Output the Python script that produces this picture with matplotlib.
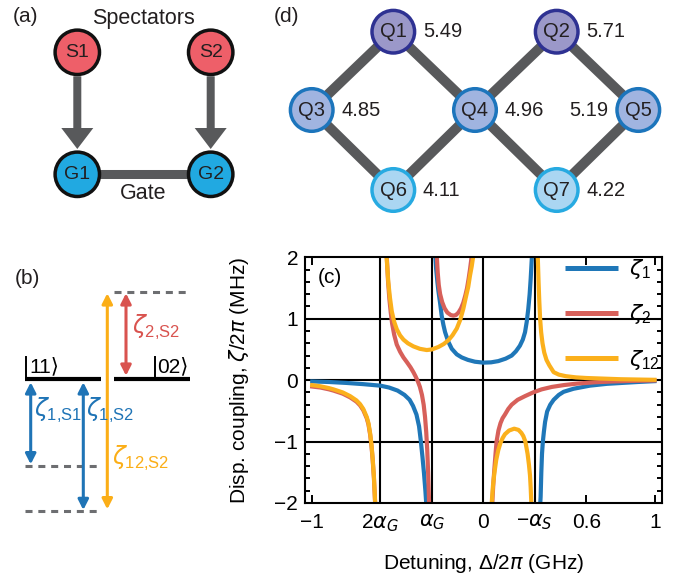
import matplotlib
matplotlib.use('Agg')
import matplotlib.pyplot as plt
from matplotlib.patches import Circle, FancyArrow
from matplotlib.ticker import FixedLocator, FixedFormatter, MultipleLocator

plt.rcParams['font.family'] = ['Liberation Sans', 'DejaVu Sans']
plt.rcParams['mathtext.fontset'] = 'custom'
plt.rcParams['mathtext.rm'] = 'Liberation Sans'
plt.rcParams['mathtext.it'] = 'DejaVu Sans:italic'
plt.rcParams['mathtext.bf'] = 'Liberation Sans:bold'

# ---------------- data: panel (c) ----------------
zeta1_dx = [
    [-1.01, -0.9, -0.8, -0.7, -0.6, -0.55, -0.5, -0.46, -0.43, -0.41, -0.39, -0.375, -0.365, -0.355, -0.346, -0.338, -0.332],
    [-0.281, -0.275, -0.268, -0.262, -0.252, -0.243, -0.233, -0.223, -0.205, -0.184, -0.155, -0.126, -0.09, -0.049, 0.0,
     0.045, 0.087, 0.13, 0.165, 0.19, 0.213, 0.23, 0.243, 0.253, 0.262, 0.27, 0.276, 0.281, 0.285],
    [0.33, 0.334, 0.338, 0.342, 0.347, 0.353, 0.36, 0.372, 0.39, 0.41, 0.44, 0.468, 0.526, 0.62, 0.72, 0.81, 0.9, 1.0, 1.01],
]
zeta1_val = [
    [-0.02, -0.03, -0.045, -0.065, -0.09, -0.12, -0.17, -0.24, -0.32, -0.42, -0.56, -0.75, -0.98, -1.25, -1.52, -1.8, -2.05],
    [2.05, 1.8, 1.6, 1.45, 1.25, 1.05, 0.9, 0.78, 0.63, 0.51, 0.42, 0.37, 0.33, 0.30, 0.285,
     0.29, 0.31, 0.35, 0.40, 0.47, 0.56, 0.66, 0.78, 0.95, 1.16, 1.4, 1.65, 1.9, 2.1],
    [-2.1, -1.9, -1.5, -1.2, -1.0, -0.84, -0.68, -0.51, -0.4, -0.32, -0.24, -0.19, -0.14, -0.09, -0.06, -0.045, -0.03, -0.016, -0.015],
]
zeta2_dx = [
    [-1.01, -0.95, -0.9, -0.874, -0.82, -0.777, -0.74, -0.719, -0.70, -0.68, -0.67, -0.66, -0.652, -0.645, -0.638, -0.632, -0.628],
    [-0.566, -0.562, -0.556, -0.548, -0.54, -0.532, -0.52, -0.505, -0.485, -0.466, -0.445, -0.425, -0.408, -0.395, -0.382,
     -0.37, -0.358, -0.348, -0.34, -0.333, -0.327, -0.322, -0.318, -0.315],
    [-0.273, -0.266, -0.26, -0.252, -0.24, -0.226, -0.21, -0.19, -0.175, -0.16, -0.145, -0.13, -0.117, -0.105, -0.095,
     -0.086, -0.078, -0.071, -0.066],
    [0.05, 0.054, 0.059, 0.065, 0.071, 0.077, 0.088, 0.1, 0.112, 0.126, 0.145, 0.165, 0.2, 0.243, 0.29, 0.34, 0.4,
     0.47, 0.55, 0.65, 0.75, 0.85, 0.95, 1.01],
]
zeta2_val = [
    [-0.10, -0.12, -0.15, -0.17, -0.22, -0.28, -0.35, -0.41, -0.49, -0.62, -0.72, -0.89, -1.08, -1.31, -1.6, -1.95, -2.15],
    [2.15, 1.95, 1.62, 1.32, 1.1, 0.92, 0.74, 0.58, 0.46, 0.37, 0.29, 0.21, 0.13, 0.06, -0.02,
     -0.11, -0.24, -0.4, -0.6, -0.85, -1.15, -1.5, -1.85, -2.15],
    [2.1, 1.75, 1.55, 1.4, 1.27, 1.17, 1.1, 1.06, 1.05, 1.06, 1.1, 1.17, 1.26, 1.38, 1.5, 1.65, 1.8, 1.95, 2.1],
    [-2.15, -1.9, -1.65, -1.42, -1.2, -1.0, -0.82, -0.7, -0.62, -0.56, -0.47, -0.4, -0.32, -0.26, -0.2, -0.15, -0.11,
     -0.08, -0.055, -0.035, -0.022, -0.013, -0.008, -0.005],
]
zeta12_dx = [
    [-1.01, -0.95, -0.9, -0.874, -0.82, -0.777, -0.74, -0.719, -0.70, -0.68, -0.67, -0.66, -0.652, -0.645, -0.638, -0.632, -0.628],
    [-0.568, -0.563, -0.558, -0.554, -0.545, -0.534, -0.52, -0.505, -0.486, -0.466, -0.44, -0.408, -0.37, -0.33, -0.3,
     -0.262, -0.23, -0.204, -0.18, -0.155, -0.135, -0.117, -0.102, -0.088, -0.078, -0.068, -0.06, -0.055],
    [0.046, 0.05, 0.056, 0.064, 0.075, 0.087, 0.1, 0.113, 0.126, 0.15, 0.18, 0.205, 0.222, 0.233, 0.245, 0.258, 0.266,
     0.272, 0.276, 0.279, 0.281],
    [0.314, 0.318, 0.322, 0.326, 0.331, 0.337, 0.345, 0.355, 0.368, 0.385, 0.41, 0.44, 0.48, 0.54, 0.6, 0.7, 0.8, 0.9, 1.01],
]
zeta12_val = [
    [-0.077, -0.1, -0.13, -0.15, -0.2, -0.26, -0.33, -0.39, -0.47, -0.6, -0.7, -0.87, -1.06, -1.29, -1.58, -1.93, -2.15],
    [2.15, 1.95, 1.75, 1.59, 1.35, 1.12, 0.95, 0.83, 0.73, 0.66, 0.6, 0.55, 0.51, 0.49, 0.5,
     0.54, 0.59, 0.65, 0.73, 0.84, 0.98, 1.16, 1.35, 1.52, 1.7, 1.85, 2.0, 2.15],
    [-2.15, -1.95, -1.72, -1.52, -1.3, -1.14, -1.02, -0.94, -0.88, -0.82, -0.79, -0.81, -0.86, -0.91, -1.0, -1.2, -1.38,
     -1.55, -1.75, -1.95, -2.15],
    [2.15, 1.95, 1.6, 1.3, 1.0, 0.78, 0.6, 0.45, 0.33, 0.24, 0.13, 0.09, 0.065, 0.045, 0.035, 0.025, 0.015, 0.01, 0.005],
]
series_labels = [r'$\zeta_1$', r'$\zeta_2$', r'$\zeta_{12}$']
series_colors = ['#1F77B8', '#D7605A', '#FBB01C']

x_ticks = [-1, -0.6, -0.3, 0, 0.3, 0.6, 1]
x_ticklabels = ['\u22121', r'$2\alpha_G$', r'$\alpha_G$', '0', r'$-\alpha_S$', '0.6', '1']
y_ticks = [-2, -1, 0, 1, 2]
y_ticklabels = ['\u22122', '\u22121', '0', '1', '2']
grid_x = [-0.6, -0.3, 0, 0.3]
grid_y = [-1, 0, 1]

# ---------------- data: panel (a) ----------------
a_names = ['S1', 'S2', 'G1', 'G2']
a_x = [77.3, 210.7, 77.3, 210.7]
a_y = [52.3, 52.3, 174.3, 174.3]
a_fill = ['#EE5F69', '#EE5F69', '#21A9E1', '#21A9E1']

# ---------------- data: panel (d) ----------------
q_names = ['Q1', 'Q2', 'Q3', 'Q4', 'Q5', 'Q6', 'Q7']
q_freq = ['5.49', '5.71', '4.85', '4.96', '5.19', '4.11', '4.22']
q_x = [393.3, 556.7, 311.7, 475.0, 638.3, 393.3, 556.7]
q_y = [31.7, 31.7, 110.0, 110.0, 110.0, 190.0, 190.0]
q_fill = ['#9B98C9', '#9B98C9', '#A0B4E0', '#A0B4E0', '#A0B4E0', '#AAD6F2', '#AAD6F2']
q_edge = ['#2E3192', '#2E3192', '#1C75BC', '#1C75BC', '#1C75BC', '#27AAE1', '#27AAE1']
q_links = [(0, 2), (0, 3), (1, 3), (1, 4), (2, 5), (3, 5), (3, 6), (4, 6)]
q_label_side = ['right', 'right', 'right', 'right', 'left', 'right', 'right']

GRAY = '#58595B'

fig = plt.figure(figsize=(6.88, 5.81), dpi=100)

# overlay axes in pixel coordinates for diagrams
ov = fig.add_axes([0, 0, 1, 1])
ov.set_xlim(0, 688)
ov.set_ylim(581, 0)
ov.axis('off')

# ---- panel (a)
ov.text(13, 16, '(a)', fontsize=15, ha='left', va='center', color='#231F20')
ov.text(143.3, 18.5, 'Spectators', fontsize=15.5, ha='center', va='center', color='#231F20')
ov.text(143.3, 193.5, 'Gate', fontsize=15.5, ha='center', va='center', color='#231F20')
ov.plot([a_x[2], a_x[3]], [a_y[2], a_y[3]], color=GRAY, lw=6.5, solid_capstyle='butt', zorder=1)
for i in (0, 1):
    ov.add_patch(FancyArrow(a_x[i], a_y[i] + 24, 0, 149 - (a_y[i] + 24), width=8, head_width=32,
                            head_length=21, length_includes_head=True, color=GRAY, lw=0, zorder=1))
for n, x, y, c in zip(a_names, a_x, a_y, a_fill):
    ov.add_patch(Circle((x, y), 22.2, facecolor=c, edgecolor='#111111', lw=2.5, zorder=3))
    ov.text(x, y, n, fontsize=14, ha='center', va='center', color='#231F20', zorder=4)

# ---- panel (b)
ov.text(15, 278, '(b)', fontsize=15, ha='left', va='center', color='#231F20')
ov.plot([25, 100.7], [379, 379], color='k', lw=3, solid_capstyle='butt')
ov.plot([114.3, 190], [379, 379], color='k', lw=3, solid_capstyle='butt')
ov.plot([25.7, 25.7], [356.5, 379], color='k', lw=1.4)
ov.plot([155, 155], [356.5, 379], color='k', lw=1.4)
ov.text(29, 367, '11\u27E9', fontsize=15, ha='left', va='center', color='k', family=['Liberation Sans', 'DejaVu Sans'])
ov.text(157.5, 367, '02\u27E9', fontsize=15, ha='left', va='center', color='k', family=['Liberation Sans', 'DejaVu Sans'])
for xs, y in (([114.3, 190], 292.3), ([25, 100.7], 465.7), ([25, 100.7], 511)):
    ov.plot(xs, [y, y], color='#6D6E71', lw=2.2, ls=(0, (2.3, 1.9)))
b_arrows = [(30.7, 382.3, 464.3, '#1F74B6'), (83.3, 382.3, 510, '#1F74B6'),
            (107.3, 293.3, 509.3, '#FBAE17'), (126, 293.3, 375.7, '#D9534F')]
for x, y1, y2, c in b_arrows:
    ov.annotate('', xy=(x, y2), xytext=(x, y1),
                arrowprops=dict(arrowstyle='<|-|>,head_length=0.55,head_width=0.28', color=c, lw=2.2,
                                shrinkA=0, shrinkB=0, mutation_scale=11))
ov.text(34, 410, r'$\zeta_{\mathrm{1{,}S1}}$', fontsize=17, ha='left', va='center', color='#1F74B6')
ov.text(86, 410, r'$\zeta_{\mathrm{1{,}S2}}$', fontsize=17, ha='left', va='center', color='#1F74B6')
ov.text(112, 458, r'$\zeta_{\mathrm{12{,}S2}}$', fontsize=17, ha='left', va='center', color='#FBAE17')
ov.text(132, 327, r'$\zeta_{\mathrm{2{,}S2}}$', fontsize=17, ha='left', va='center', color='#D9534F')

# ---- panel (d)
ov.text(274, 16.5, '(d)', fontsize=15, ha='left', va='center', color='#231F20')
for i, j in q_links:
    ov.plot([q_x[i], q_x[j]], [q_y[i], q_y[j]], color=GRAY, lw=7.2, solid_capstyle='butt', zorder=1)
for n, f, x, y, fc, ec, side in zip(q_names, q_freq, q_x, q_y, q_fill, q_edge, q_label_side):
    ov.add_patch(Circle((x, y), 21.3, facecolor=fc, edgecolor=ec, lw=2.5, zorder=3))
    ov.text(x, y, n, fontsize=14.5, ha='center', va='center', color='#231F20', zorder=4)
    if side == 'right':
        ov.text(x + 29.5, y, f, fontsize=14.5, ha='left', va='center', color='#231F20', zorder=4)
    else:
        ov.text(x - 30, y, f, fontsize=14.5, ha='right', va='center', color='#231F20', zorder=4)

# ---- panel (c)
ax = fig.add_axes([305 / 688, 78 / 581, 356.7 / 688, 245.7 / 581])
ax.set_facecolor('none')
ax.set_xlim(-1.04, 1.04)
ax.set_ylim(-2, 2)
for gx in grid_x:
    ax.axvline(gx, color='k', lw=1.5, zorder=1)
for gy in grid_y:
    ax.axhline(gy, color='k', lw=1.5, zorder=1)

handles = []
for dxs, vals, lab, col in zip([zeta1_dx, zeta2_dx, zeta12_dx], [zeta1_val, zeta2_val, zeta12_val],
                               series_labels, series_colors):
    for k, (dx, v) in enumerate(zip(dxs, vals)):
        ln, = ax.plot(dx, v, color=col, lw=3.0, zorder=2, label=lab if k == 0 else None,
                      solid_capstyle='butt')
        if k == 0:
            handles.append(ln)

ax.xaxis.set_major_locator(FixedLocator(x_ticks))
ax.xaxis.set_major_formatter(FixedFormatter(x_ticklabels))
ax.yaxis.set_major_locator(FixedLocator(y_ticks))
ax.yaxis.set_major_formatter(FixedFormatter(y_ticklabels))
ax.yaxis.set_minor_locator(MultipleLocator(0.2))
ax.tick_params(which='both', direction='in', top=True, right=True, width=1.4, labelsize=15, colors='k')
ax.tick_params(which='major', length=6)
ax.tick_params(which='minor', length=3.5)
ax.tick_params(axis='x', pad=7)
ax.tick_params(axis='y', pad=5)
for s in ax.spines.values():
    s.set_linewidth(1.5)

ax.set_xlabel(r'Detuning, $\Delta/2\pi$ (GHz)', fontsize=15)
ax.set_ylabel(r'Disp. coupling, $\zeta/2\pi$ (MHz)', fontsize=15)
ax.xaxis.set_label_coords(0.5, -0.2)
ax.yaxis.set_label_coords(-0.15, 0.5)
ax.text(0.036, 0.916, '(c)', transform=ax.transAxes, fontsize=15, ha='left', va='center')

leg = ax.legend(handles=handles, loc='upper left', bbox_to_anchor=(0.729, 1.0), frameon=False,
                handlelength=2.4, handletextpad=0.5, labelspacing=0.95, borderpad=0, borderaxespad=0,
                fontsize=16)
for l in leg.get_lines():
    l.set_linewidth(3.6)

fig.savefig('out.png', dpi=100)
